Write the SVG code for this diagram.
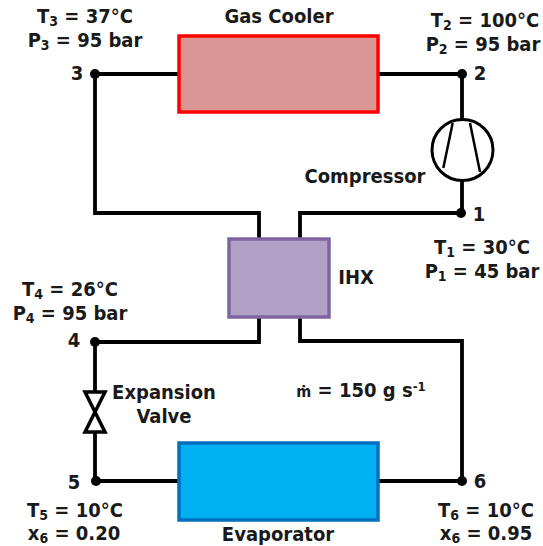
<svg xmlns="http://www.w3.org/2000/svg" width="543" height="546" viewBox="0 0 543 546">
<style>
text{font-family:"DejaVu Sans",Verdana,sans-serif;font-weight:700;font-stretch:condensed;font-size:20px;fill:#1a1a1a;text-anchor:middle}
.s{font-size:14px;baseline-shift:-3px}
.line{fill:none;stroke:#000;stroke-width:3.8}
.dot{fill:#000}
</style>
<rect width="543" height="546" fill="#fff"/>
<g id="connectors">
<path class="line" d="M179 74H95V213H259V239"/>
<path class="line" d="M378 74H462V120"/>
<path class="line" d="M462 181V213H300V239"/>
<path class="line" d="M259 317V342H95V392"/>
<path class="line" d="M95 432V481H179"/>
<path class="line" d="M300 317V341H462V481H378"/>
<circle class="dot" cx="95" cy="74" r="5"/>
<circle class="dot" cx="462" cy="74" r="5"/>
<circle class="dot" cx="461" cy="213" r="5"/>
<circle class="dot" cx="95" cy="342" r="5"/>
<circle class="dot" cx="96" cy="481" r="5"/>
<circle class="dot" cx="462" cy="481" r="5"/>
</g>
<g id="gas-cooler"><rect x="179" y="36" width="199" height="76" fill="#d99694" stroke="#f00" stroke-width="3.5"/><text x="279" y="23">Gas Cooler</text></g>
<g id="ihx"><rect x="229" y="239" width="100" height="78" fill="#b2a1c7" stroke="#8064a2" stroke-width="3.5"/><text x="356" y="284">IHX</text></g>
<g id="evaporator"><rect x="179" y="443" width="199" height="77" fill="#00b0f0" stroke="#0070c0" stroke-width="3.5"/><text x="278" y="541">Evaporator</text></g>
<g id="compressor"><circle cx="462.5" cy="150" r="30.5" fill="#fff" stroke="#000" stroke-width="3"/><path d="M452.7 123L443.3 168M470 123L480 172" fill="none" stroke="#000" stroke-width="2.5"/><text x="365" y="183">Compressor</text></g>
<g id="valve"><path d="M85 392H105L95 412L105 432H85L95 412Z" fill="#fff" stroke="#000" stroke-width="3.5"/><text x="164" y="399">Expansion</text><text x="164" y="423">Valve</text></g>
<g id="labels">
<text x="85" y="23">T<tspan class="s">3</tspan> = 37°C</text>
<text x="85" y="47">P<tspan class="s">3</tspan> = 95 bar</text>
<text x="77" y="80">3</text>
<text x="485" y="27">T<tspan class="s">2</tspan> = 100°C</text>
<text x="483" y="51">P<tspan class="s">2</tspan> = 95 bar</text>
<text x="480" y="80">2</text>
<text x="479" y="221">1</text>
<text x="482" y="254">T<tspan class="s">1</tspan> = 30°C</text>
<text x="482" y="278">P<tspan class="s">1</tspan> = 45 bar</text>
<text x="70" y="296">T<tspan class="s">4</tspan> = 26°C</text>
<text x="70" y="320">P<tspan class="s">4</tspan> = 95 bar</text>
<text x="74" y="347">4</text>
<text x="74" y="489">5</text>
<text x="75" y="517">T<tspan class="s">5</tspan> = 10°C</text>
<text x="74" y="540">x<tspan class="s">6</tspan> = 0.20</text>
<text x="480" y="488">6</text>
<text x="486" y="517">T<tspan class="s">6</tspan> = 10°C</text>
<text x="486" y="540">x<tspan class="s">6</tspan> = 0.95</text>
<text x="361" y="397"><tspan font-size="16">ṁ</tspan> = 150 g s<tspan font-size="13" dy="-6">-1</tspan></text>
</g>
</svg>
